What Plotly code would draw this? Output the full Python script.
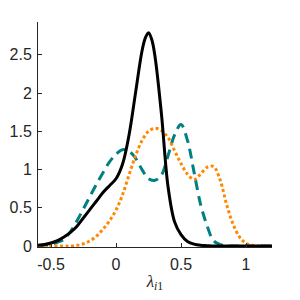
import plotly.graph_objects as go

# Black solid series
x_black = [-0.6, -0.55, -0.5, -0.45, -0.4, -0.35, -0.3, -0.25, -0.2, -0.15, -0.1, -0.05, 0.0,
           0.05, 0.1, 0.15, 0.2, 0.225, 0.25, 0.275, 0.3, 0.35, 0.4, 0.45, 0.5, 0.55, 0.6,
           0.65, 0.7, 0.75, 0.8, 0.9, 1.0, 1.1, 1.2]
y_black = [0.01, 0.02, 0.04, 0.07, 0.12, 0.18, 0.26, 0.37, 0.48, 0.59, 0.70, 0.79, 0.88,
           1.07, 1.45, 2.0, 2.55, 2.72, 2.79, 2.70, 2.48, 1.72, 0.78, 0.32, 0.15, 0.06, 0.025,
           0.01, 0.005, 0.0, 0.0, 0.0, 0.0, 0.0, 0.0]

# Teal dashed series
x_teal = [-0.6, -0.55, -0.5, -0.45, -0.4, -0.35, -0.3, -0.25, -0.2, -0.15, -0.1, -0.05, 0.0,
          0.05, 0.1, 0.15, 0.2, 0.25, 0.3, 0.35, 0.4, 0.45, 0.5, 0.55, 0.6, 0.65, 0.7,
          0.75, 0.8, 0.85, 0.9, 1.0, 1.1, 1.2]
y_teal = [0.0, 0.01, 0.02, 0.05, 0.09, 0.19, 0.33, 0.49, 0.65, 0.81, 0.96, 1.10, 1.20,
          1.26, 1.24, 1.15, 1.0, 0.88, 0.86, 0.93, 1.18, 1.45, 1.59, 1.38, 0.97, 0.55, 0.27,
          0.07, 0.02, 0.005, 0.0, 0.0, 0.0, 0.0]

# Orange dotted series
x_orange = [-0.6, -0.5, -0.4, -0.35, -0.3, -0.25, -0.2, -0.15, -0.1, -0.05, 0.0, 0.05, 0.1,
            0.15, 0.2, 0.25, 0.3, 0.35, 0.4, 0.45, 0.5, 0.55, 0.6, 0.65, 0.7, 0.75, 0.8,
            0.85, 0.9, 0.95, 1.0, 1.05, 1.1, 1.2]
y_orange = [0.0, 0.0, 0.0, 0.0, 0.01, 0.03, 0.07, 0.13, 0.22, 0.33, 0.47, 0.67, 0.93,
            1.18, 1.38, 1.50, 1.54, 1.51, 1.42, 1.25, 1.08, 0.94, 0.87, 0.94, 1.03, 1.04, 0.87,
            0.55, 0.29, 0.12, 0.035, 0.01, 0.0, 0.0]

x_ticks = [-0.5, 0, 0.5, 1]
x_ticklabels = ["-0.5", "0", "0.5", "1"]
y_ticks = [0, 0.5, 1, 1.5, 2, 2.5]
y_ticklabels = ["0", "0.5", "1", "1.5", "2", "2.5"]

fig = go.Figure()
fig.add_trace(go.Scatter(x=x_teal, y=y_teal, mode="lines",
                         line=dict(color="#008080", width=3, dash="10px,6px", shape="spline")))
fig.add_trace(go.Scatter(x=x_orange, y=y_orange, mode="lines",
                         line=dict(color="#ff8800", width=3, dash="3px,2.5px", shape="spline")))
fig.add_trace(go.Scatter(x=x_black, y=y_black, mode="lines",
                         line=dict(color="#000000", width=3, shape="spline")))

axis_col = "#262626"
fig.update_layout(
    width=292, height=292,
    margin=dict(l=30, r=28, t=14, b=53),
    paper_bgcolor="white", plot_bgcolor="white",
    showlegend=False,
    font=dict(family="Liberation Sans, Arial, sans-serif", size=16, color=axis_col),
)
fig.update_xaxes(range=[-0.6, 1.2], tickvals=x_ticks, ticktext=x_ticklabels, automargin=False,
                 showgrid=False, zeroline=False, showline=True, linecolor=axis_col, linewidth=1,
                 ticks="inside", ticklen=4, tickcolor=axis_col, ticklabelstandoff=3,
                 title=dict(text="<i>λ</i><sub><i>i</i>1</sub>",
                            font=dict(family="Liberation Serif, DejaVu Serif, serif", size=17),
                            standoff=2))
fig.update_yaxes(range=[-0.012, 2.93], tickvals=y_ticks, ticktext=y_ticklabels, automargin=False,
                 showgrid=False, zeroline=False, showline=True, linecolor=axis_col, linewidth=1,
                 ticks="inside", ticklen=4, tickcolor=axis_col, ticklabelstandoff=2)

fig.write_html("out.html")
